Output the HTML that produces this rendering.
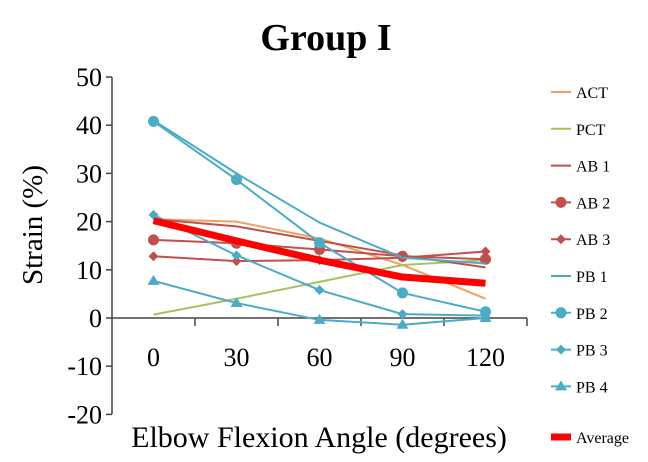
<!DOCTYPE html>
<html><head><meta charset="utf-8"><style>
body{margin:0;background:#fff;}
svg text{font-family:"Liberation Serif",serif;}
</style></head><body>
<svg id="chart" width="648" height="457" viewBox="0 0 648 457" xmlns="http://www.w3.org/2000/svg">
<rect width="648" height="457" fill="#fff"/>
<text x="326" y="50" font-size="38" font-weight="bold" text-anchor="middle">Group I</text>
<text transform="translate(42,225) rotate(-90)" font-size="29" text-anchor="middle">Strain (%)</text>
<text x="319" y="447" font-size="30" text-anchor="middle">Elbow Flexion Angle (degrees)</text>
<g id="axes"></g><g id="series"></g><g id="legend"></g>
</svg>
<script>
const categories=[0,30,60,90,120];
const yTicks=[50,40,30,20,10,0,-10,-20];
const seriesNames=["ACT","PCT","AB 1","AB 2","AB 3","PB 1","PB 2","PB 3","PB 4","Average"];
const actVals=[20.5,20,16.5,11,4];
const pctVals=[0.7,4,7.5,11,12];
const ab1Vals=[20.5,19,16,13,10.5];
const ab2Vals=[16.2,15.5,14.2,12.8,12.2];
const ab3Vals=[12.8,11.8,12,12.5,13.8];
const pb1Vals=[41,30,19.8,12.5,11.3];
const pb2Vals=[40.8,28.7,15.6,5.2,1.3];
const pb3Vals=[21.4,13,5.8,0.8,0.5];
const pb4Vals=[7.7,3.1,-0.4,-1.4,0];
const avgVals=[20.2,16,12,8.5,7.2];
const NS="http://www.w3.org/2000/svg";
const X0=112,CW=83,Y0=318,PU=4.82;
const xs=i=>X0+CW*(i+0.5);
const ys=v=>Y0-v*PU;
function mk(t,a,p){const e=document.createElementNS(NS,t);for(const k in a)e.setAttribute(k,a[k]);p.appendChild(e);return e;}
const axes=document.getElementById('axes');
mk('line',{x1:X0,y1:ys(50),x2:X0,y2:ys(-20),stroke:'#444','stroke-width':1.5},axes);
mk('line',{x1:X0,y1:Y0,x2:X0+CW*5,y2:Y0,stroke:'#444','stroke-width':1.5},axes);
yTicks.forEach(t=>{
 mk('line',{x1:X0-6,y1:ys(t),x2:X0,y2:ys(t),stroke:'#444','stroke-width':1.5},axes);
 const e=mk('text',{x:X0-10,y:ys(t)+9,'font-size':26,'text-anchor':'end'},axes);
 
 
 e.textContent=t;
});
categories.forEach((c,i)=>{
 mk('line',{x1:X0+CW*(i+1),y1:Y0,x2:X0+CW*(i+1),y2:Y0+8,stroke:'#444','stroke-width':1.5},axes);
 const e=mk('text',{x:xs(i),y:Y0+48,'font-size':26,'text-anchor':'middle'},axes);
 
 
 e.textContent=c;
});
const defs=[[actVals,'#f0a060',2,null],[pctVals,'#a8c060',2,null],[ab1Vals,'#c0504d',2,null],[ab2Vals,'#c0504d',2,'circle'],[ab3Vals,'#c0504d',2,'diamond'],[pb1Vals,'#4bacc6',2,null],[pb2Vals,'#4bacc6',2,'circle'],[pb3Vals,'#4bacc6',2,'diamond'],[pb4Vals,'#4bacc6',2,'triangle'],[avgVals,'#ff0000',7,null]];
function marker(g,type,x,y,c){
 if(type==='circle')return mk('circle',{cx:x,cy:y,r:5.5,fill:c},g);
 if(type==='diamond')return mk('path',{d:`M${x} ${y-5}L${x+5} ${y}L${x} ${y+5}L${x-5} ${y}Z`,fill:c},g);
 if(type==='triangle')return mk('path',{d:`M${x} ${y-6}L${x+6} ${y+4}L${x-6} ${y+4}Z`,fill:c},g);
}
const sg=document.getElementById('series'),lg=document.getElementById('legend');
defs.forEach((d,k)=>{
 const [vals,c,w,m]=d;
 const g=mk('g',{},sg);
 
 
 mk('polyline',{points:vals.map((v,i)=>xs(i)+','+ys(v)).join(' '),fill:'none',stroke:c,'stroke-width':w,'stroke-linejoin':'round'},g);
 if(m)vals.forEach((v,i)=>marker(g,m,xs(i),ys(v),c));
 const ly=k<9?92+k*36.8:437;
 const lgi=mk('g',{},lg);
 
 
 mk('line',{x1:551,y1:ly,x2:571,y2:ly,stroke:c,'stroke-width':w},lgi);
 if(m)marker(lgi,m,561,ly,c);
 const t=mk('text',{x:576,y:ly+6,'font-size':16},lgi);
 t.textContent=seriesNames[k];
});
</script>
</body></html>
